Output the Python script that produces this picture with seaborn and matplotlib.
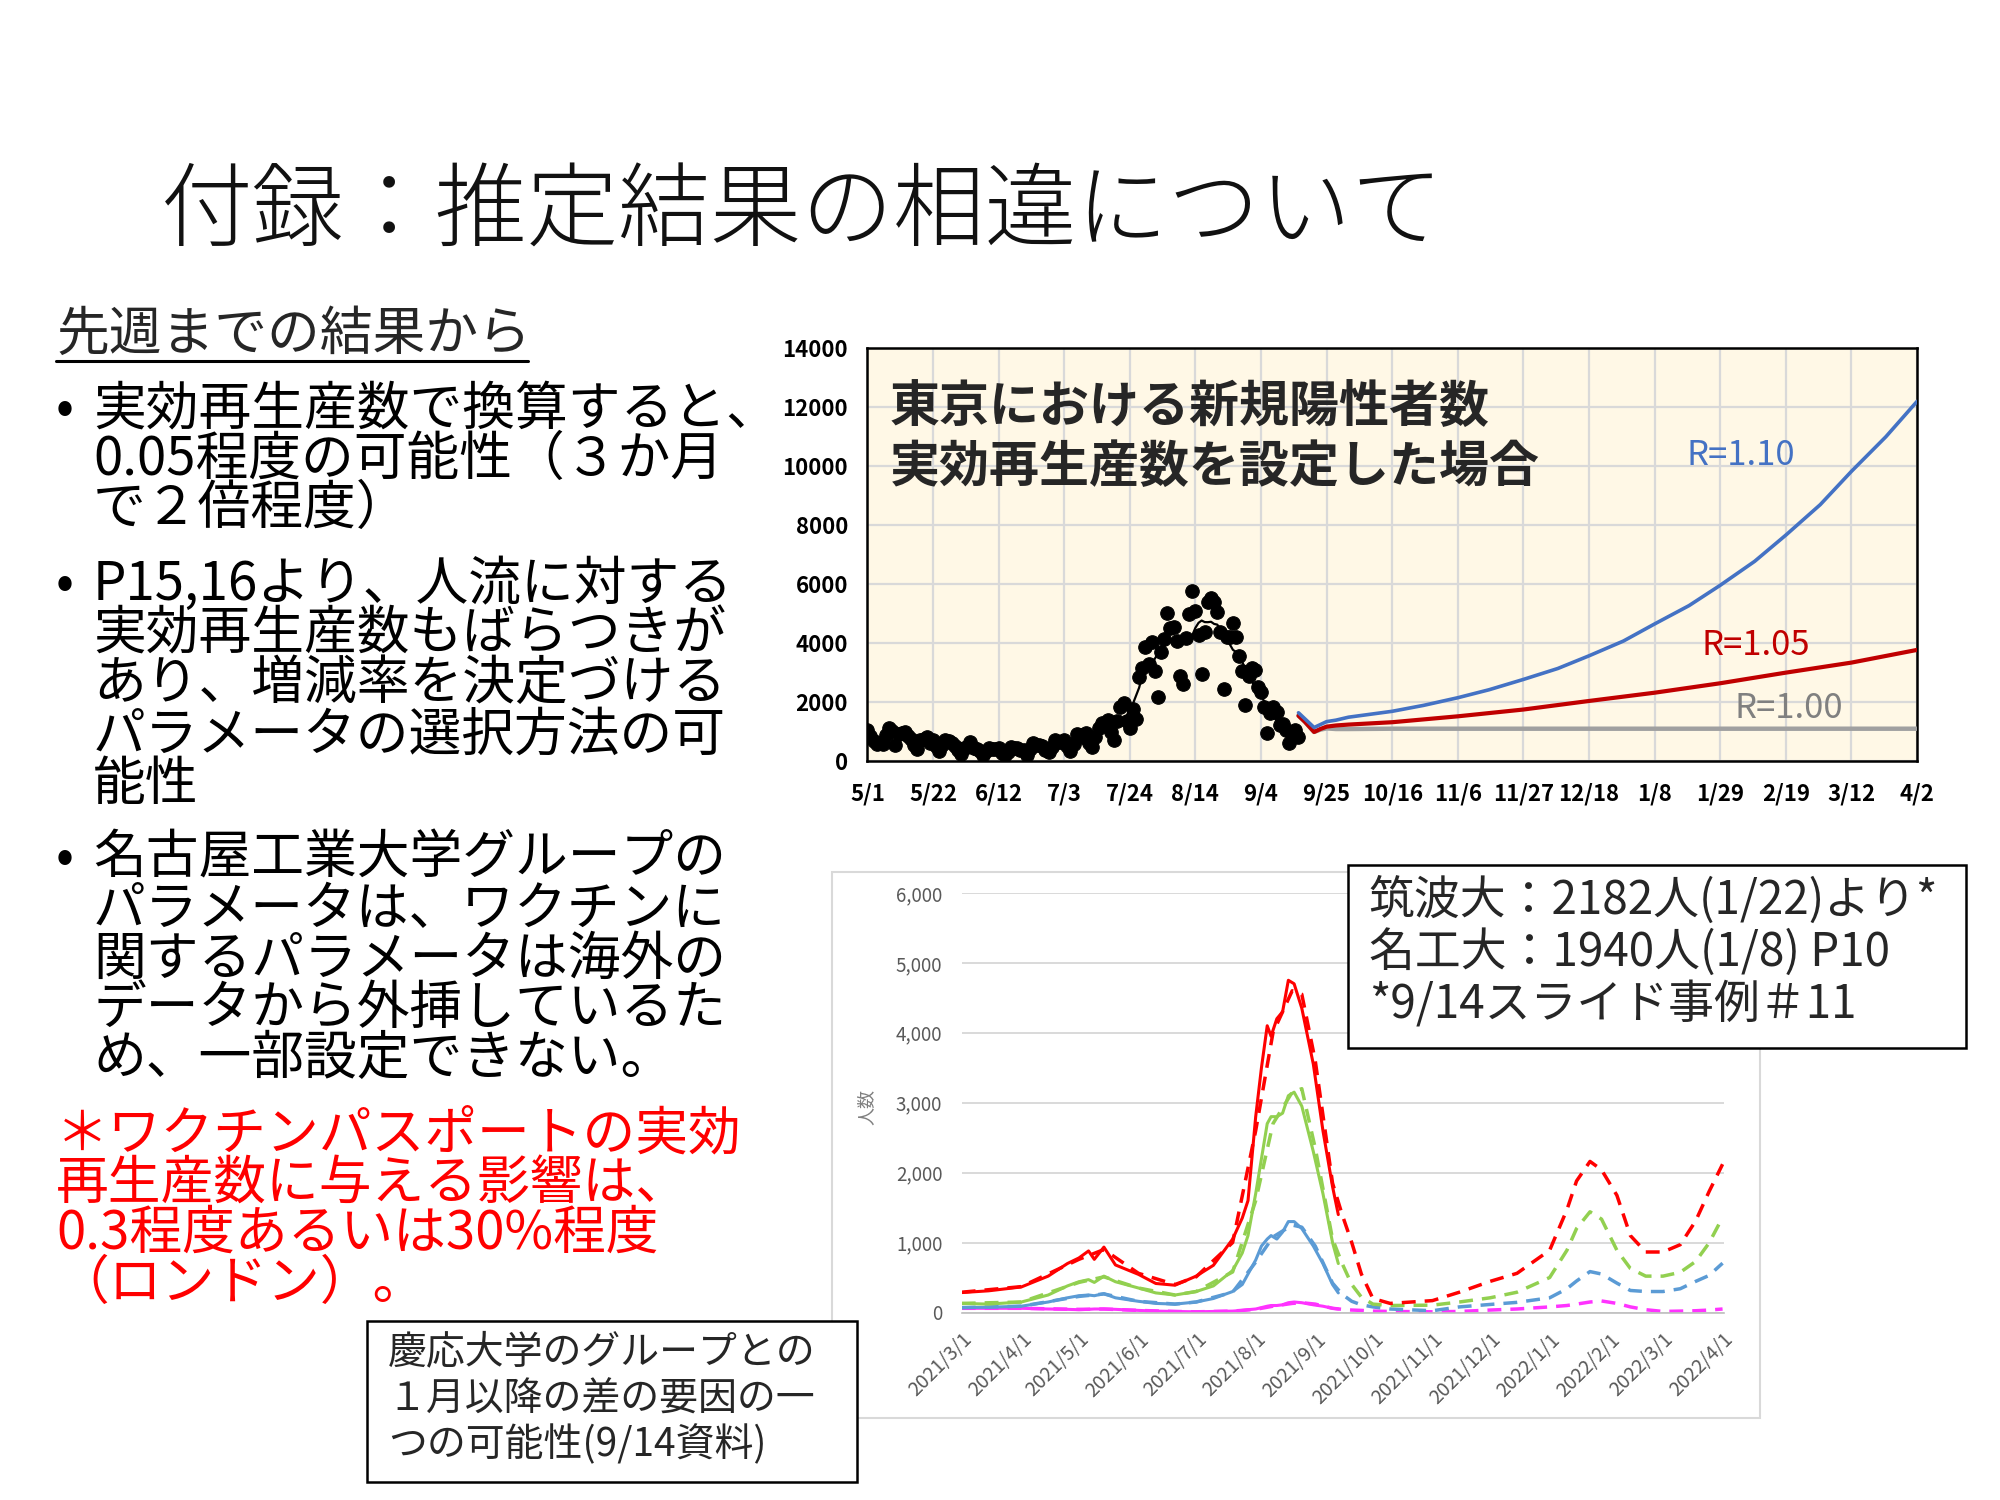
import pandas as pd
import numpy as np
import matplotlib
matplotlib.use("Agg")
import matplotlib.pyplot as plt
from matplotlib.patches import Rectangle
from matplotlib.lines import Line2D
import seaborn as sns

sns.set_theme(style="white")
plt.rcParams['font.family'] = ['Noto Sans CJK JP', 'DejaVu Sans']

# ---- top chart data: Tokyo daily new cases 2021/5/1 - 9/16
tokyo_start = "2021-05-01"
tokyo_cases = [
    1050, 870, 708, 609, 621, 591, 907, 1121, 1032, 573, 925, 969, 1010, 854, 772, 542,
    419, 732, 766, 843, 614, 722, 535, 340, 542, 743, 684, 614, 539, 393, 260,
    471, 487, 676, 472, 436, 351, 235, 369, 440, 439, 435, 467, 304, 209, 337,
    501, 452, 453, 388, 376, 236, 435, 619, 570, 562, 534, 386, 317, 476, 714,
    673, 660, 716, 518, 342, 593, 920, 896, 822, 950, 614, 502, 830, 1149, 1308, 1271,
    1410, 1008, 727, 1387, 1832, 1979, 1359, 1128, 1763, 1429, 2848, 3177, 3865, 3300, 4058,
    3058, 2195, 3709, 4166, 5042, 4515, 4566, 4066, 2884, 2612, 4200, 4989, 5773, 5094, 4295,
    2962, 4377, 5386, 5534, 5405, 5074, 4392, 2447, 4220, 4228, 4704, 4227, 3581, 3081, 1915, 2909,
    3168, 3099, 2539, 2362, 1853, 968, 1629, 1834, 1675, 1242, 1273, 1067, 611, 1004, 1052, 831,
]

# projections with fixed effective reproduction number
r110_dates = ["2021-09-16", "2021-09-18", "2021-09-21", "2021-09-23", "2021-09-25", "2021-09-28",
              "2021-10-02", "2021-10-09", "2021-10-16", "2021-10-26", "2021-11-06", "2021-11-16",
              "2021-11-27", "2021-12-08", "2021-12-18", "2021-12-29", "2022-01-08", "2022-01-19",
              "2022-01-29", "2022-02-09", "2022-02-19", "2022-03-02", "2022-03-12", "2022-03-23",
              "2022-04-02"]
r110_vals = [1650, 1450, 1150, 1250, 1350, 1400, 1500, 1600, 1700, 1900, 2160, 2430, 2780,
             3150, 3580, 4080, 4660, 5280, 5970, 6780, 7670, 8700, 9830, 11000, 12200]

r105_dates = ["2021-09-16", "2021-09-18", "2021-09-21", "2021-09-23", "2021-09-25", "2021-09-28",
              "2021-10-02", "2021-10-16", "2021-11-06", "2021-11-27", "2021-12-18", "2022-01-08",
              "2022-01-29", "2022-02-19", "2022-03-12", "2022-04-02"]
r105_vals = [1550, 1350, 1000, 1100, 1180, 1220, 1250, 1330, 1530, 1760, 2050, 2330, 2650,
             3010, 3350, 3780]

r100_dates = ["2021-09-16", "2021-09-18", "2021-09-21", "2021-09-23", "2021-09-25", "2021-09-28",
              "2021-10-02", "2021-10-16", "2022-04-02"]
r100_vals = [1550, 1350, 1000, 1080, 1120, 1100, 1100, 1110, 1110]

top_yticks = [0, 2000, 4000, 6000, 8000, 10000, 12000, 14000]

# ---- bottom chart data (model comparison)
fit_dates = ["2021-03-01", "2021-03-15", "2021-04-01", "2021-04-15", "2021-04-25", "2021-05-01",
             "2021-05-06", "2021-05-09", "2021-05-14", "2021-05-20", "2021-06-01", "2021-06-10",
             "2021-06-20", "2021-07-01", "2021-07-10", "2021-07-20", "2021-07-25", "2021-07-28",
             "2021-08-01", "2021-08-04", "2021-08-07", "2021-08-09", "2021-08-12", "2021-08-15",
             "2021-08-18", "2021-08-21", "2021-08-25", "2021-08-31", "2021-09-05", "2021-09-10",
             "2021-09-13"]
fit_red = [285, 310, 365, 520, 700, 780, 880, 760, 935, 680, 545, 415, 390, 520, 675, 1050,
           1350, 1600, 2800, 3500, 4100, 3950, 4200, 4300, 4750, 4700, 4350, 3550, 2600, 1800, 1400]
fit_green = [130, 120, 150, 250, 380, 440, 470, 430, 520, 440, 350, 280, 250, 300, 380, 600,
             850, 1100, 1700, 2200, 2700, 2800, 2800, 2850, 3100, 3150, 2950, 2300, 1700, 1000, 700]
fit_blue = [70, 75, 90, 150, 210, 240, 250, 240, 270, 210, 160, 130, 120, 150, 200, 300,
            400, 550, 750, 950, 1050, 1100, 1050, 1150, 1300, 1300, 1200, 950, 700, 400, 280]
fit_magenta = [60, 60, 60, 50, 45, 40, 45, 50, 50, 45, 30, 20, 15, 10, 15, 20,
               30, 40, 50, 70, 90, 100, 100, 110, 140, 150, 140, 110, 90, 60, 50]

model_dates = ["2021-03-01", "2021-04-01", "2021-05-01", "2021-05-14", "2021-06-01", "2021-06-20",
               "2021-07-01", "2021-07-20", "2021-08-01", "2021-08-10", "2021-08-20", "2021-08-25",
               "2021-09-01", "2021-09-10", "2021-09-15", "2021-09-20", "2021-09-25", "2021-10-01",
               "2021-10-10", "2021-11-01", "2021-11-15", "2021-12-01", "2021-12-15", "2022-01-01",
               "2022-01-10", "2022-01-15", "2022-01-22", "2022-01-28", "2022-02-05", "2022-02-12",
               "2022-02-20", "2022-03-01", "2022-03-10", "2022-03-18", "2022-03-25", "2022-04-01"]
model_red = [290, 370, 760, 900, 560, 400, 510, 1000, 2600, 4000, 4600, 4550, 3600, 1850, 1400,
             1000, 550, 200, 130, 170, 290, 445, 560, 890, 1470, 1880, 2160, 2040, 1675, 1100,
             865, 865, 970, 1310, 1730, 2120]
model_green = [130, 150, 430, 510, 350, 250, 300, 580, 1600, 2700, 3150, 3200, 2350, 1050, 700,
               400, 220, 120, 100, 105, 150, 210, 290, 500, 890, 1200, 1440, 1335, 890, 630,
               520, 520, 575, 730, 995, 1360]
model_blue = [70, 90, 230, 265, 160, 120, 150, 290, 720, 1080, 1250, 1220, 950, 420, 260,
              160, 110, 80, 50, 25, 80, 115, 145, 210, 340, 450, 585, 550, 420, 315,
              300, 300, 340, 445, 530, 705]
model_magenta = [60, 60, 45, 50, 30, 15, 10, 20, 45, 90, 130, 140, 120, 60, 45,
                 35, 30, 20, 15, 10, 15, 35, 50, 80, 100, 120, 150, 165, 130, 80,
                 40, 15, 20, 25, 35, 50]

bottom_yticks = [0, 1000, 2000, 3000, 4000, 5000, 6000]

# ---- slide text
title = "付録：推定結果の相違について"
heading = "先週までの結果から"
bullet1 = ["実効再生産数で換算すると、", "0.05程度の可能性（３か月", "で２倍程度）"]
bullet2 = ["P15,16より、人流に対する", "実効再生産数もばらつきが", "あり、増減率を決定づける",
           "パラメータの選択方法の可", "能性"]
bullet3 = ["名古屋工業大学グループの", "パラメータは、ワクチンに", "関するパラメータは海外の",
           "データから外挿しているた", "め、一部設定できない。"]
red_note = ["＊ワクチンパスポートの実効", "再生産数に与える影響は、", "0.3程度あるいは30%程度",
            "（ロンドン）。"]
keio_box = ["慶応大学のグループとの", "１月以降の差の要因の一", "つの可能性(9/14資料)"]
tsukuba_box = ["筑波大：2182人(1/22)より*", "名工大：1940人(1/8) P10", "*9/14スライド事例＃11"]

# layout helpers (positions measured on a 1568x1176 view of the slide)
W, H = 1568.0, 1176.0
def fx(px):
    return px / W
def fy(py):
    return 1 - py / H

fig = plt.figure(figsize=(20, 15), dpi=100)
fig.patch.set_facecolor("white")

fig.text(fx(126), fy(168), title, fontsize=66, fontweight="light", va="center", color="#111111")

# left column text
body_fs = 38
fig.text(fx(44), fy(262), heading, fontsize=body_fs, va="center")
fig.add_artist(Line2D([fx(44), fx(414)], [fy(283), fy(283)], color="black", lw=2.2,
                      transform=fig.transFigure))

def bullet_block(lines, ys, with_bullet=True, x=73, color="black"):
    if with_bullet:
        fig.text(fx(44), fy(ys[0]), "•", fontsize=body_fs, va="center", color=color)
    for s, y in zip(lines, ys):
        fig.text(fx(x), fy(y), s, fontsize=body_fs, va="center", color=color)

bullet_block(bullet1, [321, 360, 399])
bullet_block(bullet2, [458, 497, 536, 576, 615])
bullet_block(bullet3, [673, 713, 752, 791, 830])
bullet_block(red_note, [889, 928, 967, 1006], with_bullet=False, x=44, color="#FF0000")

# ---- top chart
ax = fig.add_axes([fx(680), fy(597), fx(1503) - fx(680), fy(273) - fy(597)])
ax.set_facecolor("#FFF8E6")

tokyo = pd.DataFrame({"date": pd.date_range(tokyo_start, periods=len(tokyo_cases), freq="D"),
                      "cases": tokyo_cases})
tokyo["avg"] = tokyo["cases"].rolling(7, center=True, min_periods=4).mean()

top_ticks = pd.date_range("2021-05-01", "2022-04-02", freq="21D")
ax.set_xlim(top_ticks[0], top_ticks[-1])
ax.set_ylim(0, 14000)
ax.set_xticks(top_ticks)
ax.set_xticklabels([f"{d.month}/{d.day}" for d in top_ticks], fontsize=16, fontweight="bold")
ax.set_yticks(top_yticks)
ax.set_yticklabels([str(v) for v in top_yticks], fontsize=16, fontweight="bold")
ax.tick_params(axis="both", length=0, colors="black")
ax.tick_params(axis="x", pad=15)
ax.tick_params(axis="y", pad=14)
ax.grid(True, color="#D9D9D9", lw=1.6)
ax.set_axisbelow(True)
for sp in ax.spines.values():
    sp.set_color("black")
    sp.set_linewidth(1.8)

sns.scatterplot(data=tokyo, x="date", y="cases", color="black", s=95, edgecolor="black",
                ax=ax, zorder=3, legend=False)
sns.lineplot(data=tokyo, x="date", y="avg", color="black", lw=1.6, ax=ax, zorder=3)

proj = [(r100_dates, r100_vals, "#A0A0A0", 3.2),
        (r105_dates, r105_vals, "#C00000", 3.0),
        (r110_dates, r110_vals, "#4472C4", 2.6)]
for dts, vals, col, lw in proj:
    d = pd.DataFrame({"date": pd.to_datetime(dts), "v": vals})
    sns.lineplot(data=d, x="date", y="v", color=col, lw=lw, ax=ax, zorder=4)

ax.set_xlabel("")
ax.set_ylabel("")
ax.text(0.021, 0.855, "東京における新規陽性者数", transform=ax.transAxes, fontsize=36,
        fontweight="bold", va="center")
ax.text(0.021, 0.712, "実効再生産数を設定した場合", transform=ax.transAxes, fontsize=36,
        fontweight="bold", va="center")
ax.text(0.832, 0.741, "R=1.10", transform=ax.transAxes, fontsize=25, color="#4472C4",
        ha="center", va="center")
ax.text(0.846, 0.281, "R=1.05", transform=ax.transAxes, fontsize=25, color="#C00000",
        ha="center", va="center")
ax.text(0.878, 0.127, "R=1.00", transform=ax.transAxes, fontsize=25, color="#808080",
        ha="center", va="center")

# ---- bottom chart (excel-style)
fig.add_artist(Rectangle((fx(652), fy(1112)), fx(1380) - fx(652), fy(684) - fy(1112),
                         transform=fig.transFigure, facecolor="none", edgecolor="#D9D9D9",
                         lw=1.5, zorder=1))
bx = fig.add_axes([fx(754), fy(1029), fx(1352) - fx(754), fy(700) - fy(1029)])
bx.set_facecolor("none")

fit = pd.DataFrame({"date": pd.to_datetime(fit_dates), "red": fit_red, "green": fit_green,
                    "blue": fit_blue, "magenta": fit_magenta})
model = pd.DataFrame({"date": pd.to_datetime(model_dates), "red": model_red, "green": model_green,
                      "blue": model_blue, "magenta": model_magenta})
series_colors = {"magenta": "#FF33FF", "blue": "#5B9BD5", "green": "#92D050", "red": "#FF0000"}

for name, col in series_colors.items():
    sns.lineplot(data=model, x="date", y=name, color=col, lw=2.5, ax=bx,
                 linestyle=(0, (4, 2.6)))
    sns.lineplot(data=fit, x="date", y=name, color=col, lw=2.2, ax=bx)

bottom_ticks = pd.date_range("2021-03-01", "2022-04-01", freq="MS")
bx.set_xlim(bottom_ticks[0], bottom_ticks[-1] + pd.Timedelta(days=1))
bx.set_ylim(0, 6000)
bx.set_yticks(bottom_yticks)
bx.set_yticklabels([f"{v:,}" for v in bottom_yticks], fontsize=13.5, color="#595959")
bx.set_xticks(bottom_ticks)
bx.set_xticklabels([f"{d.year}/{d.month}/{d.day}" for d in bottom_ticks], fontsize=14,
                   color="#595959", rotation=45, ha="right", rotation_mode="anchor")
bx.tick_params(axis="y", length=0, pad=14)
bx.tick_params(axis="x", length=6, width=1, color="#BFBFBF", pad=6, direction="out")
bx.grid(True, axis="y", color="#D9D9D9", lw=1.4)
bx.grid(False, axis="x")
bx.set_axisbelow(True)
for side in ["top", "right", "left"]:
    bx.spines[side].set_visible(False)
bx.spines["bottom"].set_color("#BFBFBF")
bx.spines["bottom"].set_linewidth(1.2)
bx.set_xlabel("")
bx.set_ylabel("")
fig.text(fx(679), fy(868), "人数", fontsize=13, color="#7F7F7F", rotation=90,
         ha="center", va="center")

# ---- boxes
fig.add_artist(Rectangle((fx(1057), fy(822)), fx(1541) - fx(1057), fy(678) - fy(822),
                         transform=fig.transFigure, facecolor="white", edgecolor="black",
                         lw=1.8, zorder=5))
for s, y in zip(tsukuba_box, [706, 747, 788]):
    fig.text(fx(1073), fy(y), s, fontsize=33, va="center", zorder=6)

fig.add_artist(Rectangle((fx(288), fy(1162)), fx(672) - fx(288), fy(1036) - fy(1162),
                         transform=fig.transFigure, facecolor="white", edgecolor="black",
                         lw=1.8, zorder=5))
for s, y in zip(keio_box, [1060, 1097, 1133]):
    fig.text(fx(304), fy(y), s, fontsize=28, va="center", zorder=6)

fig.savefig("out.png", dpi=100, facecolor="white")
